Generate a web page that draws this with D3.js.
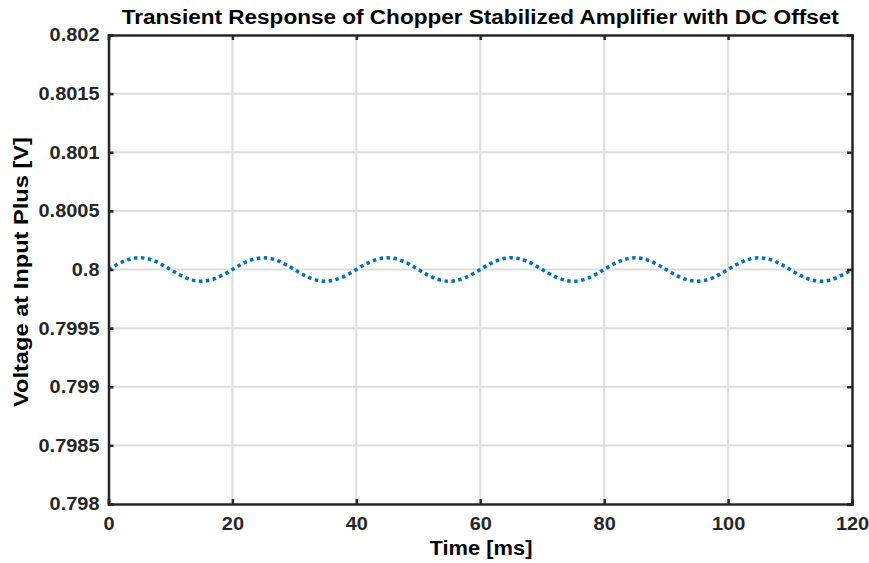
<!DOCTYPE html>
<html><head><meta charset="utf-8">
<script src="https://cdn.jsdelivr.net/npm/d3@7"></script>
<style>
html,body{margin:0;padding:0;background:#fff;}
text{font-family:"Liberation Sans",Arial,Helvetica,sans-serif;font-weight:bold;}
</style></head>
<body><svg id="c" width="869" height="563"></svg>
<script>
const titleText = "Transient Response of Chopper Stabilized Amplifier with DC Offset";
const xLabel = "Time [ms]";
const yLabel = "Voltage at Input Plus [V]";
const xTicks = [0, 20, 40, 60, 80, 100, 120];
const yTicks = [0.798, 0.7985, 0.799, 0.7995, 0.8, 0.8005, 0.801, 0.8015, 0.802];
const yTickLabels = ["0.798","0.7985","0.799","0.7995","0.8","0.8005","0.801","0.8015","0.802"];
const timeMs = [0,2.5,5,7.5,10,12.5,15,17.5,20,22.5,25,27.5,30,32.5,35,37.5,40,42.5,45,47.5,50,52.5,55,57.5,60,62.5,65,67.5,70,72.5,75,77.5,80,82.5,85,87.5,90,92.5,95,97.5,100,102.5,105,107.5,110,112.5,115,117.5,120];
const voltage = [0.8,0.800071,0.8001,0.800071,0.8,0.799929,0.7999,0.799929,
  0.8,0.800071,0.8001,0.800071,0.8,0.799929,0.7999,0.799929,
  0.8,0.800071,0.8001,0.800071,0.8,0.799929,0.7999,0.799929,
  0.8,0.800071,0.8001,0.800071,0.8,0.799929,0.7999,0.799929,
  0.8,0.800071,0.8001,0.800071,0.8,0.799929,0.7999,0.799929,
  0.8,0.800071,0.8001,0.800071,0.8,0.799929,0.7999,0.799929,0.8];

const L=108.5, R=852, T=35, B=504;
const svg = d3.select("#c");
const x = d3.scaleLinear().domain([0,120]).range([L,R]);
const y = d3.scaleLinear().domain([0.798,0.802]).range([B,T]);
const axisCol = "#262626";

const g = svg.append("g");
g.selectAll(".vg").data(xTicks.slice(1,-1)).enter().append("line")
  .attr("x1",d=>x(d)).attr("x2",d=>x(d)).attr("y1",T).attr("y2",B)
  .attr("stroke","#dedede").attr("stroke-width",2);
g.selectAll(".hg").data(yTicks.slice(1,-1)).enter().append("line")
  .attr("x1",L).attr("x2",R).attr("y1",d=>y(d)).attr("y2",d=>y(d))
  .attr("stroke","#dedede").attr("stroke-width",2);

const line = d3.line().x((d,i)=>x(timeMs[i])).y(d=>y(d)).curve(d3.curveNatural);
svg.append("path").datum(voltage).attr("d",line).attr("fill","none")
  .attr("stroke","#0072BD").attr("stroke-width",3.5).attr("stroke-dasharray","3.5,3.5");

const tl = -5;
const fmtY = d=>yTickLabels[yTicks.indexOf(d)];
const ax = [
  svg.append("g").attr("transform",`translate(0,${B})`).call(d3.axisBottom(x).tickValues(xTicks).tickSize(tl).tickPadding(13)),
  svg.append("g").attr("transform",`translate(0,${T})`).call(d3.axisTop(x).tickValues(xTicks).tickSize(tl).tickFormat("")),
  svg.append("g").attr("transform",`translate(${L},0)`).call(d3.axisLeft(y).tickValues(yTicks).tickSize(tl).tickPadding(9).tickFormat(fmtY)),
  svg.append("g").attr("transform",`translate(${R},0)`).call(d3.axisRight(y).tickValues(yTicks).tickSize(tl).tickFormat(""))
];
ax.forEach(a=>{
  a.attr("font-family",null).attr("font-size",null);
  a.select(".domain").attr("stroke",axisCol).attr("stroke-width",2.5);
  a.selectAll(".tick line").attr("stroke",axisCol).attr("stroke-width",2.5);
  a.selectAll(".tick text").attr("fill",axisCol).style("font-size","18.7px");
});

let refW = 0;
ax[2].selectAll(".tick text").each(function(){ if (this.textContent==="0.8015") refW = this.getComputedTextLength(); });
const sx = refW ? 61/refW : 1;
svg.selectAll(".tick text").each(function(){
  const w = this.getComputedTextLength();
  if (w>0) d3.select(this).attr("textLength", w*sx).attr("lengthAdjust","spacingAndGlyphs");
});

svg.append("text").attr("x",(L+R)/2).attr("y",24).attr("text-anchor","middle")
  .style("font-size","19.5px").attr("fill","#000")
  .attr("textLength",717).attr("lengthAdjust","spacingAndGlyphs").text(titleText);
svg.append("text").attr("x",481).attr("y",555).attr("text-anchor","middle")
  .style("font-size","21px").attr("fill","#000")
  .attr("textLength",103).attr("lengthAdjust","spacingAndGlyphs").text(xLabel);
svg.append("text").attr("transform",`translate(28,${272}) rotate(-90)`).attr("text-anchor","middle")
  .style("font-size","20.5px").attr("fill","#000")
  .attr("textLength",270).attr("lengthAdjust","spacingAndGlyphs").text(yLabel);
</script></body></html>
